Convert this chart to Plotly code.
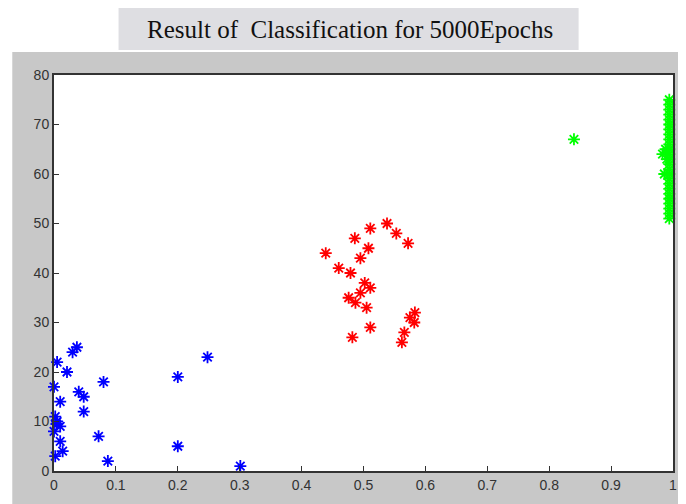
import plotly.graph_objects as go

blue_x = [0.037, 0.030, 0.005, 0.021, 0.080, 0.0, 0.040, 0.048, 0.010, 0.048,
          0.002, 0.005, 0.010, 0.0, 0.072, 0.010, 0.014, 0.002, 0.087,
          0.200, 0.200, 0.248, 0.301, 0.004]
blue_y = [25, 24, 22, 20, 18, 17, 16, 15, 14, 12,
          11, 10, 9, 8, 7, 6, 4, 3, 2,
          19, 5, 23, 1, 9.5]

red_x = [0.538, 0.511, 0.553, 0.486, 0.572, 0.508, 0.439, 0.495, 0.460, 0.479,
         0.502, 0.511, 0.495, 0.476, 0.487, 0.505, 0.583, 0.575, 0.582, 0.511,
         0.566, 0.562, 0.482]
red_y = [50, 49, 48, 47, 46, 45, 44, 43, 41, 40,
         38, 37, 36, 35, 34, 33, 32, 31, 30, 29,
         28, 26, 27]

green_x = [0.994] * 25 + [0.983, 0.988, 0.986, 0.99, 0.84]
green_y = list(range(51, 76)) + [64, 65, 60, 63, 67]

title_text = "Result of  Classification for 5000Epochs"

fig = go.Figure()
for xs, ys, col in [(blue_x, blue_y, "#0000ff"), (red_x, red_y, "#ff0000"), (green_x, green_y, "#00ff00")]:
    fig.add_trace(go.Scatter(
        x=xs, y=ys, mode="markers",
        marker=dict(symbol="asterisk-open", size=10, color=col,
                    line=dict(color=col, width=1.8)),
        showlegend=False, cliponaxis=False))

shapes = [
    dict(type="rect", xref="paper", yref="paper", x0=-0.0674, x1=1.03, y0=-0.1, y1=1.058,
         fillcolor="#c8c8c8", line=dict(width=0), layer="below"),
    dict(type="rect", xref="paper", yref="paper", x0=0.1043, x1=0.8475, y0=1.063, y1=1.179,
         fillcolor="#dedee2", line=dict(width=0), layer="below"),
    dict(type="rect", xref="paper", yref="paper", x0=0, x1=1, y0=0, y1=1,
         fillcolor="white", line=dict(width=0), layer="below"),
]

fig.update_layout(
    width=678, height=496,
    margin=dict(l=46, r=9, t=67, b=33),
    paper_bgcolor="white", plot_bgcolor="white",
    shapes=shapes,
    annotations=[dict(text=title_text, xref="paper", yref="paper", x=0.4775, y=1.116,
                      xanchor="center", yanchor="middle",
                      showarrow=False, font=dict(family="Liberation Serif", size=25, color="#111"))],
    xaxis=dict(range=[0, 1], tickvals=[i / 10 for i in range(11)],
               ticktext=["0", "0.1", "0.2", "0.3", "0.4", "0.5", "0.6", "0.7", "0.8", "0.9", "1"],
               showgrid=False, zeroline=False, showline=True, linecolor="#333", linewidth=2,
               mirror=True, ticks="inside", ticklen=5, tickcolor="#333",
               tickfont=dict(family="Liberation Sans", size=14, color="#333")),
    yaxis=dict(range=[0, 80], tickvals=list(range(0, 81, 10)),
               showgrid=False, zeroline=False, showline=True, linecolor="#333", linewidth=2,
               mirror=True, ticks="inside", ticklen=5, tickcolor="#333",
               tickfont=dict(family="Liberation Sans", size=14, color="#333")),
)

fig.write_html("out.html")
